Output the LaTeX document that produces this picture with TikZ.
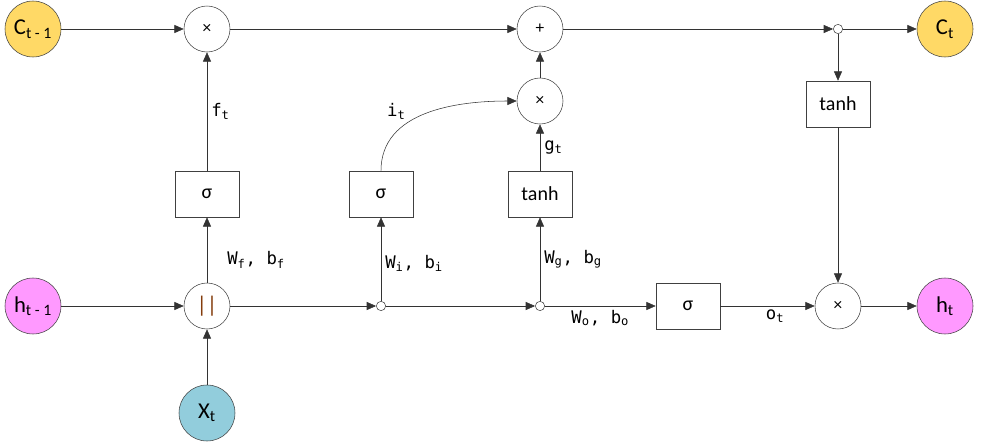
\documentclass[tikz,border=0pt]{standalone}
\usepackage{fontspec}
\setmainfont{Carlito}
\newfontfamily\labfont{DejaVu Sans Mono}
\usetikzlibrary{arrows.meta, positioning}

\definecolor{cellyellow}{HTML}{FFD966}
\definecolor{hiddenpink}{HTML}{FF99FF}
\definecolor{inputblue}{HTML}{92CDDC}
\definecolor{concatbrown}{HTML}{843C0C}

\begin{document}
\begin{tikzpicture}[
    x=0.75pt, y=-0.75pt,
    state/.style={circle, draw=black!75, minimum size=42pt, inner sep=0pt, font=\fontsize{17}{19}\selectfont},
    cellstate/.style={state, fill=cellyellow},
    hidden/.style={state, fill=hiddenpink},
    inputx/.style={state, fill=inputblue},
    op/.style={circle, draw=black!75, fill=white, minimum size=34.5pt, inner sep=0pt, font=\fontsize{13}{15}\selectfont},
    junction/.style={circle, draw=black!75, fill=white, minimum size=7pt, inner sep=0pt},
    gate/.style={rectangle, draw=black!75, fill=white, minimum width=48pt, minimum height=34.5pt, font=\fontsize{15}{17}\selectfont},
    arrow/.style={-{Triangle[length=7pt, width=6pt]}, draw=black!80},
    lab/.style={font=\labfont\fontsize{13}{15}\selectfont, inner sep=3pt}
]
\useasboundingbox (0,0) rectangle (981,445);

% Cell state row
\node[cellstate] (cprev) at (33,29) {C\textsubscript{t - 1}};
\node[op] (mulf) at (207,29) {×};
\node[op] (add) at (540,29) {+};
\node[junction] (split) at (838,29) {};
\node[cellstate] (cnext) at (945,29) {C\textsubscript{t}};

% Gates
\node[op] (muli) at (540,101) {×};
\node[gate] (tanhc) at (838,104) {tanh};
\node[gate] (sigf) at (207,194) {σ};
\node[gate] (sigi) at (381,194) {σ};
\node[gate] (tanhg) at (540,194) {tanh};

% Hidden state row
\node[hidden] (hprev) at (33,306) {h\textsubscript{t - 1}};
\node[op, font=\fontsize{17}{19}\selectfont\color{concatbrown}] (concat) at (207,306) {||};
\node[junction] (dota) at (381,306) {};
\node[junction] (dotb) at (540,306) {};
\node[gate] (sigo) at (688,306) {σ};
\node[op] (mulo) at (838,306) {×};
\node[hidden] (hnext) at (945,306) {h\textsubscript{t}};
\node[inputx] (xt) at (207,413) {X\textsubscript{t}};

% Cell state path
\draw[arrow] (cprev) -- (mulf);
\draw[arrow] (mulf) -- (add);
\draw[arrow] (add) -- (split);
\draw[arrow] (split) -- (cnext);
\draw[arrow] (split) -- (tanhc);
\draw[arrow] (tanhc) -- (mulo);
\draw[arrow] (muli) -- (add);

% Hidden state path
\draw[arrow] (hprev) -- (concat);
\draw[arrow] (xt) -- (concat);
\draw[arrow] (concat) -- (dota);
\draw[arrow] (dota) -- (dotb);
\draw[arrow] (dotb) -- node[lab, below, pos=0.5] {W\textsubscript{o},~b\textsubscript{o}} (sigo);
\draw[arrow] (sigo) -- node[lab, below, pos=0.58] {o\textsubscript{t}} (mulo);
\draw[arrow] (mulo) -- (hnext);

% Gate inputs and outputs
\draw[arrow] (concat) -- node[lab, right, pos=0.35, xshift=12pt] {W\textsubscript{f},~b\textsubscript{f}} (sigf);
\draw[arrow] (sigf) -- node[lab, right, pos=0.5] {f\textsubscript{t}} (mulf);
\draw[arrow] (dota) -- node[lab, right, pos=0.45] {W\textsubscript{i},~b\textsubscript{i}} (sigi);
\draw[arrow] (sigi.north) to[out=90, in=180] node[lab, pos=0.3, above, xshift=-2pt, yshift=4pt] {i\textsubscript{t}} (muli.west);
\draw[arrow] (dotb) -- node[lab, right, pos=0.5] {W\textsubscript{g},~b\textsubscript{g}} (tanhg);
\draw[arrow] (tanhg) -- node[lab, right, pos=0.5] {g\textsubscript{t}} (muli);

\end{tikzpicture}
\end{document}
